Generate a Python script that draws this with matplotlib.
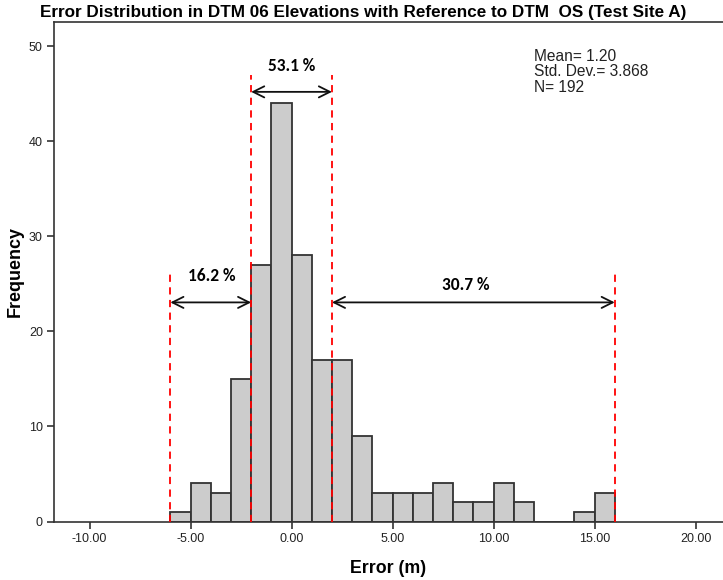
import matplotlib
matplotlib.use("Agg")
import matplotlib.pyplot as plt
import numpy as np

# Histogram of elevation errors (1 m bins)
bin_edges = np.arange(-6, 17, 1)
counts = [1, 4, 3, 15, 27, 44, 28, 17, 17, 9, 3, 3, 3, 4, 2, 2, 4, 2, 0, 0, 1, 3]

# Error ranges and the share of points falling in each
range_bounds = [-6, -2, 2, 16]
range_labels = ["16.2 %", "53.1 %", "30.7 %"]

x_ticks = [-10, -5, 0, 5, 10, 15, 20]
y_ticks = [0, 10, 20, 30, 40, 50]

mean_val, std_val, n_val = 1.20, 3.868, 192

plt.rcParams['font.family'] = ['Liberation Sans', 'DejaVu Sans']

fig = plt.figure(figsize=(7.23, 5.8), dpi=100)
ax = fig.add_axes([54 / 723, 58.5 / 580, 1 - 54 / 723, 499.5 / 580])

widths = np.diff(bin_edges)
ax.bar(bin_edges[:-1], counts, width=widths, align='edge',
       color='#cccccc', edgecolor='#333333', linewidth=1.3, zorder=2)

ax.set_xlim(-11.76, 21.36)
ax.set_ylim(0, 52.55)
ax.set_xticks(x_ticks)
ax.set_xticklabels([f"{t:.2f}" for t in x_ticks])
ax.set_yticks(y_ticks)
ax.tick_params(direction='out', length=5, width=1.2, labelsize=9,
               colors='#333333', labelcolor='#222222', pad=3)
ax.spines['right'].set_visible(False)
for s in ['left', 'top', 'bottom']:
    ax.spines[s].set_linewidth(1.2)
    ax.spines[s].set_color('#333333')

ax.set_xlabel("Error (m)", fontsize=12.8, fontweight='bold', labelpad=11)
ax.set_ylabel("Frequency", fontsize=13, fontweight='bold', labelpad=4)

fig.text(40 / 723, 1 - 13 / 580,
         "Error Distribution in DTM 06 Elevations with Reference to DTM  OS (Test Site A)",
         fontsize=12.3, fontweight='bold', va='center', ha='left')

ax.text(12.0, 49.75,
        f"Mean= {mean_val:.2f}\nStd. Dev.= {std_val:.3f}\nN= {n_val}",
        fontsize=11.2, va='top', ha='left', linespacing=1.06, color='#222222')

# Red dashed boundaries of the error ranges
line_tops = [26.0, 47.0, 47.0, 26.0]
for xb, top in zip(range_bounds, line_tops):
    ax.plot([xb, xb], [0, top], color='red', linestyle=(0, (4, 3)),
            linewidth=1.3, zorder=3)

# Double-headed arrows with percentage labels
arrow_y = [23.05, 45.2, 23.05]
label_pos = [(-3.95, 25.8), (0.0, 47.9), (8.6, 24.9)]
for i, lab in enumerate(range_labels):
    x0, x1 = range_bounds[i], range_bounds[i + 1]
    ax.annotate("", xy=(x0, arrow_y[i]), xytext=(x1, arrow_y[i]),
                arrowprops=dict(arrowstyle='<->', color='#111111', lw=1.3,
                                shrinkA=0, shrinkB=0, mutation_scale=20),
                zorder=4)
    ax.text(label_pos[i][0], label_pos[i][1], lab, fontsize=12.5,
            fontweight='bold', ha='center', va='center',
            family=['Carlito', 'Lato', 'DejaVu Sans'])

fig.savefig("out.png", dpi=100)
